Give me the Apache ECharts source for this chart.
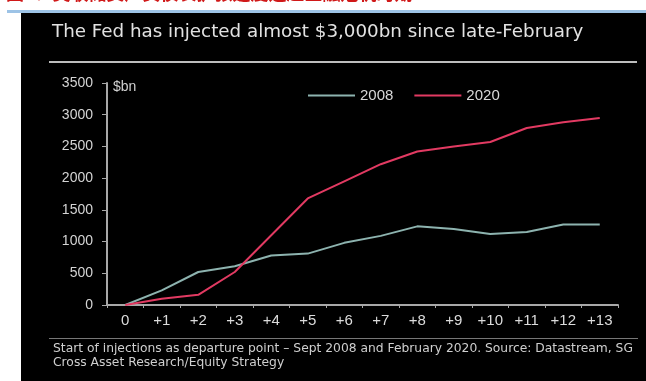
<!DOCTYPE html>
<html>
<head>
<meta charset="utf-8">
<script src="https://cdn.jsdelivr.net/npm/echarts@6/dist/echarts.min.js"></script>
<style>
  html, body { margin: 0; padding: 0; background: #ffffff; }
  #chart { width: 646px; height: 381px; }
</style>
</head>
<body>
<div id="chart"></div>
<script>
// Months since the start of each injection round
const categories = ['0', '+1', '+2', '+3', '+4', '+5', '+6', '+7', '+8', '+9', '+10', '+11', '+12', '+13'];
// Cumulative Fed injections, $bn
const values2008 = [0, 230, 520, 610, 780, 810, 980, 1090, 1240, 1200, 1120, 1150, 1270, 1270];
const values2020 = [0, 100, 160, 520, 1100, 1680, 1950, 2220, 2420, 2500, 2570, 2790, 2880, 2950];
const seriesNames = ['2008', '2020'];
const yTicks = { min: 0, max: 3500, step: 500 };

const FONT = '"Liberation Sans", Arial, Helvetica, sans-serif';
const WIDE = '"DejaVu Sans", Verdana, sans-serif';
const COL_2008 = '#8db3af';
const COL_2020 = '#e23a62';
const chart = echarts.init(document.getElementById('chart'), null, { renderer: 'canvas' });

chart.setOption({
  backgroundColor: '#ffffff',
  animation: false,
  textStyle: { fontFamily: FONT },
  graphic: [
    // page header (clipped at the top edge)
    { type: 'text', left: 6, top: -16, z: 0,
      style: { text: '图7：美联储资产负债表扩张速度远超金融危机时期', fill: '#d01818',
               font: 'bold 18px "Noto Sans CJK SC", sans-serif' } },
    { type: 'rect', shape: { x: 7, y: 10, width: 639, height: 3 }, style: { fill: '#9dc3e6' }, z: 0 },
    // dark panel
    { type: 'rect', shape: { x: 21, y: 13, width: 625, height: 368 }, style: { fill: '#000000' }, z: 0 },
    { type: 'text', left: 52, top: 23, z: 1,
      style: { text: 'The Fed has injected almost $3,000bn since late-February', fill: '#e2e2e2',
               font: '18.3px ' + WIDE } },
    { type: 'rect', shape: { x: 49, y: 61, width: 588, height: 2 }, style: { fill: '#bdbdbd' }, z: 1 },
    { type: 'text', left: 113, top: 80, z: 1,
      style: { text: '$bn', fill: '#d0d0d0', font: '14px ' + FONT } },
    { type: 'rect', shape: { x: 49, y: 338, width: 589, height: 1 }, style: { fill: '#777777' }, z: 1 },
    { type: 'text', left: 53, top: 342, z: 1,
      style: { text: 'Start of injections as departure point \u2013 Sept 2008 and February 2020. Source: Datastream, SG\nCross Asset Research/Equity Strategy',
               fill: '#cfcfcf', font: '12.3px ' + WIDE, lineHeight: 14 } }
  ],
  legend: {
    left: 303, top: 83,
    itemWidth: 47, itemHeight: 2, itemGap: 21,
    icon: 'rect',
    textStyle: { color: '#d8d8d8', fontSize: 15, fontFamily: FONT },
    data: [
      { name: seriesNames[0], itemStyle: { color: COL_2008 } },
      { name: seriesNames[1], itemStyle: { color: COL_2020 } }
    ]
  },
  grid: { left: 107, right: 28, top: 83, bottom: 76, containLabel: false },
  xAxis: {
    type: 'category',
    data: categories,
    boundaryGap: true,
    axisLine: { lineStyle: { color: '#a8a8a8', width: 2 } },
    axisTick: { show: true, length: 3, lineStyle: { color: '#a8a8a8' } },
    axisLabel: { color: '#dcdcdc', fontSize: 15, margin: 8, fontFamily: FONT },
    splitLine: { show: false }
  },
  yAxis: {
    type: 'value',
    min: yTicks.min, max: yTicks.max, interval: yTicks.step,
    axisLine: { show: true, lineStyle: { color: '#a8a8a8', width: 2 } },
    axisTick: { show: true, length: 5, lineStyle: { color: '#a8a8a8' } },
    axisLabel: { color: '#d4d4d4', fontSize: 14, margin: 14, fontFamily: FONT,
                 formatter: v => String(v) },
    splitLine: { show: false }
  },
  series: [
    { name: seriesNames[0], type: 'line', data: values2008, symbol: 'none',
      itemStyle: { color: COL_2008 }, lineStyle: { color: COL_2008, width: 2 } },
    { name: seriesNames[1], type: 'line', data: values2020, symbol: 'none',
      itemStyle: { color: COL_2020 }, lineStyle: { color: COL_2020, width: 2 } }
  ]
});
</script>
</body>
</html>
